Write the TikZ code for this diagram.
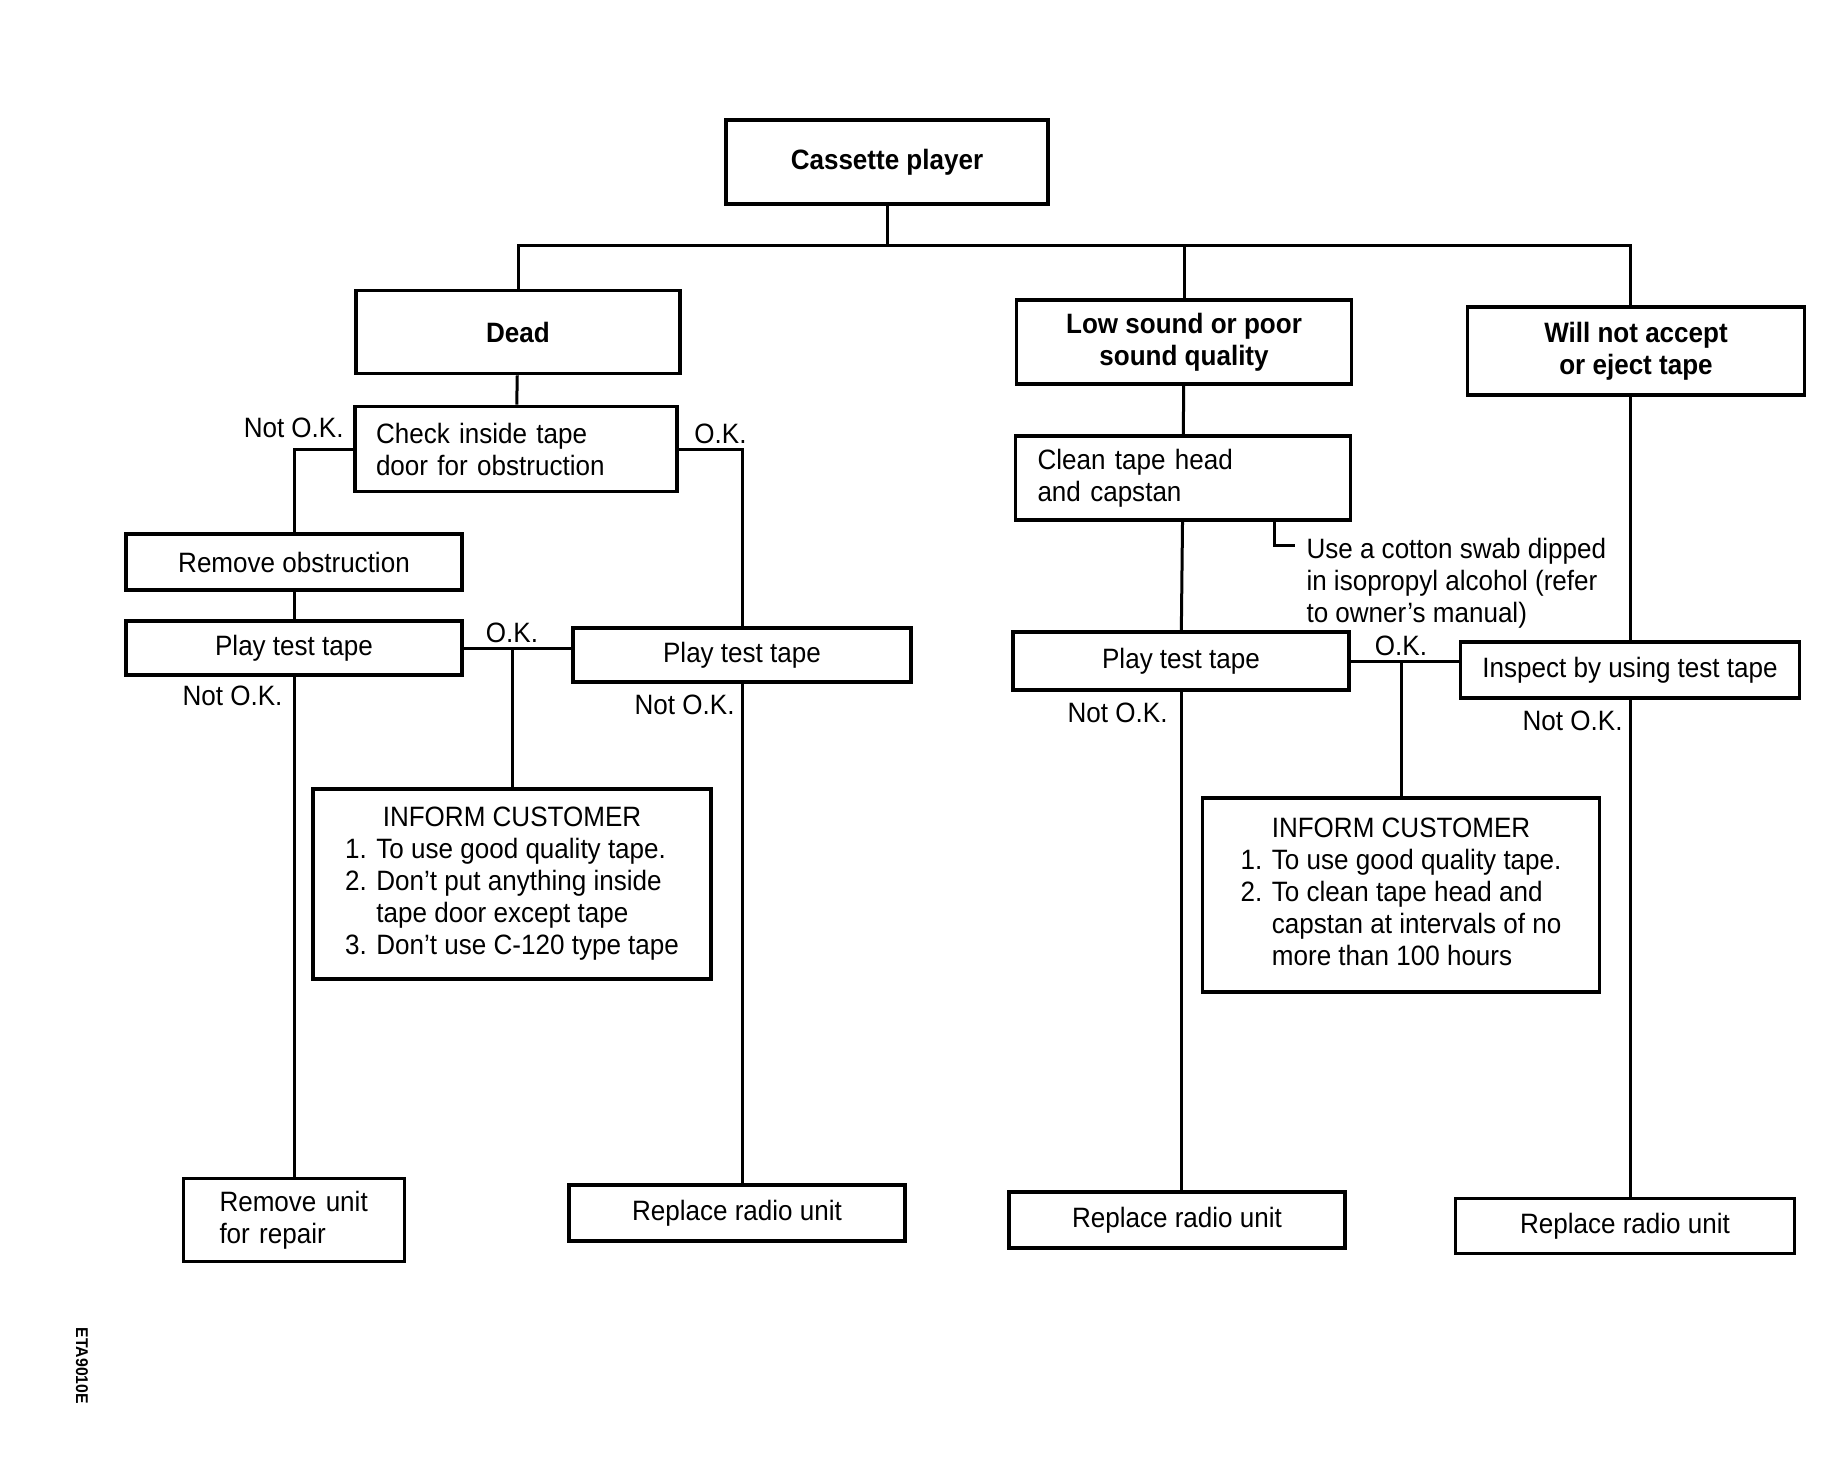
\documentclass[tikz,border=0pt]{standalone}
\usepackage{fontspec}
\setmainfont{Liberation Sans}[FakeStretch=0.93]
\usetikzlibrary{positioning}
\newcommand\Txt{\fontsize{14}{16}\selectfont}

\begin{document}
\begin{tikzpicture}[x=0.5pt, y=-0.5pt, line width=1.5pt,
    box/.style={draw, line width=1.9pt, inner sep=0pt, align=center, font=\Txt},
    bold/.style={font=\Txt\bfseries},
    lbl/.style={inner sep=0pt, font=\Txt}]
  \useasboundingbox (0,0) rectangle (1832,1472);

  \node[box, bold, minimum width=161pt, minimum height=42pt] (cassette) at (887,162) {Cassette player};
  \node[box, bold, minimum width=162pt, minimum height=41.5pt] (dead) at (518,332) {Dead};
  \node[box, bold, minimum width=167.5pt, minimum height=42pt] (lowsnd) at (1184,342) {Low sound or poor\\sound quality};
  \node[box, bold, minimum width=168.5pt, minimum height=44pt] (noeject) at (1636,351) {Will not accept\\or eject tape};

  \node[box, align=left, inner xsep=10.5pt, text width=140pt, minimum height=42.5pt] (check) at (516,449) {Check inside tape\\door for obstruction};
  \node[box, minimum width=168pt, minimum height=28pt] (removeobs) at (294,562) {Remove obstruction};
  \node[box, minimum width=168pt, minimum height=27pt] (play1) at (294,648) {Play test tape};
  \node[box, minimum width=169pt, minimum height=27pt] (play2) at (742,655) {Play test tape};
  \node[box, minimum width=199pt, minimum height=95pt] (inform1) at (512,884) {%
    \begin{tabular}{@{}r@{ }l@{}}
      \multicolumn{2}{c}{INFORM CUSTOMER}\\
      1. & To use good quality tape.\\
      2. & Don't put anything inside\\
         & tape door except tape\\
      3. & Don't use C-120 type tape
    \end{tabular}};
  \node[box, align=left, inner xsep=18pt, text width=74.5pt, minimum height=41.5pt] (removeunit) at (294,1220) {Remove unit\\for repair};
  \node[box, minimum width=168pt, minimum height=28pt] (replace1) at (737,1213) {Replace radio unit};

  \node[box, align=left, inner xsep=11pt, text width=145.5pt, minimum height=42pt] (clean) at (1183,478) {Clean tape head\\and capstan};
  \node[lbl, align=left, anchor=north west] (note) at (1305,537) {Use a cotton swab dipped\\in isopropyl alcohol (refer\\to owner's manual)};
  \node[box, minimum width=168pt, minimum height=29pt] (play3) at (1181,661) {Play test tape};
  \node[box, minimum width=169.5pt, minimum height=28pt] (inspect) at (1630,670) {Inspect by using test tape};
  \node[box, minimum width=198.5pt, minimum height=97pt] (inform2) at (1401,895) {%
    \begin{tabular}{@{}r@{ }l@{}}
      \multicolumn{2}{c}{INFORM CUSTOMER}\\
      1. & To use good quality tape.\\
      2. & To clean tape head and\\
         & capstan at intervals of no\\
         & more than 100 hours
    \end{tabular}};
  \node[box, minimum width=168pt, minimum height=28pt] (replace2) at (1177,1220) {Replace radio unit};
  \node[box, minimum width=169.5pt, minimum height=27.5pt] (replace3) at (1625,1226) {Replace radio unit};

  \node[lbl, rotate=-90, font=\fontsize{8.5}{10}\selectfont\bfseries] (code) at (82,1366) {ETA9010E};

  \coordinate (bus) at (887,245);
  \draw (cassette) -- (bus);
  \draw (dead) |- (bus) -| (inspect |- noeject.north);
  \draw (lowsnd) -- (lowsnd |- bus);

  \draw (dead) -- (check);
  \draw (check.west) -| (removeobs);
  \draw (check.east) -| (play2);
  \node[lbl, above left=5pt and 4pt of check.west] (nok1) {Not O.K.};
  \node[lbl, above right=2pt and 7pt of check.east] (ok1) {O.K.};
  \draw (removeobs) -- (play1);
  \coordinate (j1) at (inform1 |- play1.east);
  \draw (play1.east) -- (play1.east -| play2.west);
  \draw (j1) -- (inform1);
  \node[lbl, above=2pt of j1] (ok2) {O.K.};
  \draw (play1) -- (play1 |- removeunit.north);
  \draw (play2) -- (play2 |- replace1.north);
  \node[lbl, below left=4pt and 5pt of play1.south] (nok2) {Not O.K.};
  \node[lbl, below left=5pt and 3pt of play2.south] (nok3) {Not O.K.};

  \draw (lowsnd) -- (clean);
  \draw (clean) -- (play3);
  \coordinate (swab) at (1295,545);
  \draw ([xshift=-10.5pt]swab |- clean.south) |- (swab);
  \draw (play3.east) -- (play3.east -| inspect.west);
  \coordinate (j2) at (inform2 |- play3.east);
  \draw (j2) -- (inform2);
  \node[lbl, above=2pt of j2] (ok3) {O.K.};
  \draw (inspect) -- (inspect |- noeject.south);
  \draw (play3) -- (play3 |- replace2.north);
  \draw (inspect) -- (inspect |- replace3.north);
  \node[lbl, below left=5pt and 6pt of play3.south] (nok4) {Not O.K.};
  \node[lbl, below left=5pt and 3pt of inspect.south] (nok5) {Not O.K.};
\end{tikzpicture}
\end{document}
